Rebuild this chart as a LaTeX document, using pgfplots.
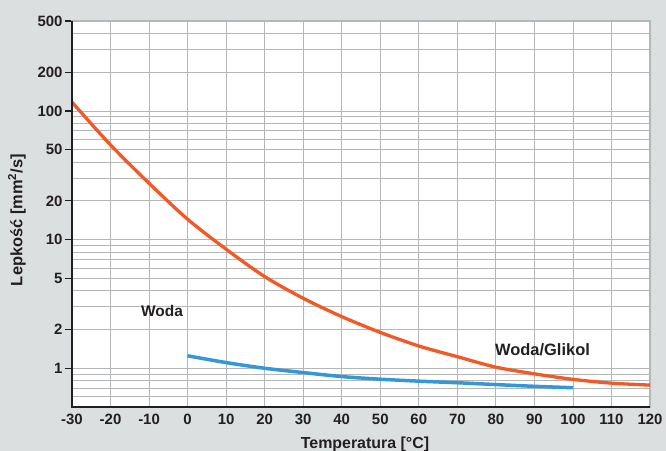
\documentclass[border=0pt]{standalone}
\usepackage{pgfplots}
\pgfplotsset{compat=1.18}
\usepackage{fontspec}
\setmainfont{Liberation Sans}
\definecolor{bg}{RGB}{220,223,224}
\definecolor{gridc}{RGB}{180,182,184}
\definecolor{orangec}{RGB}{241,90,36}
\definecolor{bluec}{RGB}{52,152,216}
\definecolor{txt}{RGB}{35,31,32}
\begin{document}
\begin{tikzpicture}[x=1bp,y=1bp]
\fill[bg] (0,0) rectangle (666,451);
\useasboundingbox (0,0) rectangle (666,451);
\begin{axis}[
  at={(72bp,44bp)}, anchor=south west,
  scale only axis, width=578bp, height=386bp,
  ymode=log, xmin=-30, xmax=120, ymin=0.5, ymax=500,
  axis background/.style={fill=white},
  xtick={-30,-20,...,120},
  xticklabels={-30,-20,-10,0,10,20,30,40,50,60,70,80,90,100,110,120},
  ytick={1,2,5,10,20,50,100,200,500},
  yticklabels={1,2,5,10,20,50,100,200,500},
  minor ytick={0.6,0.7,0.8,0.9,3,4,6,7,8,9,30,40,60,70,80,90,300,400},
  grid=both,
  major grid style={gridc, line width=0.8bp},
  minor grid style={gridc, line width=0.8bp},
  axis line style={gridc, line width=1.3bp},
  tick align=outside,
  ytick pos=left,
  xtick pos=bottom,
  x tick style={draw=none},
  y tick style={txt, line width=1.2bp},
  major tick length=7bp,
  minor tick length=0pt,
  tick label style={font=\fontsize{15}{17}\selectfont\bfseries, text=txt},
  xticklabel style={yshift=3bp},
  yticklabel style={xshift=1bp},
  clip=true,
]
\addplot[orangec, line width=3.3bp, smooth] coordinates {
(-30,117) (-20,54.4) (-10,27.4) (0,14.4) (10,8.42) (20,5.16) (30,3.5) (40,2.52) (50,1.90) (60,1.49) (70,1.23) (80,1.02) (90,0.905) (100,0.82) (110,0.766) (120,0.74)
};
\addplot[bluec, line width=3.5bp, smooth] coordinates {
(0,1.25) (10,1.107) (20,1.0) (30,0.926) (40,0.862) (50,0.822) (60,0.794) (70,0.772) (80,0.747) (90,0.724) (100,0.706)
};
\end{axis}
\draw[txt, line width=1.3bp] (72,430) -- (72,44) -- (650,44);
\node[txt, font=\fontsize{15.5}{17}\selectfont\bfseries] at (162,140) {Woda};
\node[txt, font=\fontsize{16.5}{18}\selectfont\bfseries] at (542.5,101.5) {Woda/Glikol};
\node[txt, font=\fontsize{16.5}{18}\selectfont\bfseries, rotate=90] at (17,231) {Lepkość [mm\textsuperscript{2}/s]};
\node[txt, font=\fontsize{16}{18}\selectfont\bfseries, anchor=base] at (365,2.5) {Temperatura [°C]};
\end{tikzpicture}
\end{document}
